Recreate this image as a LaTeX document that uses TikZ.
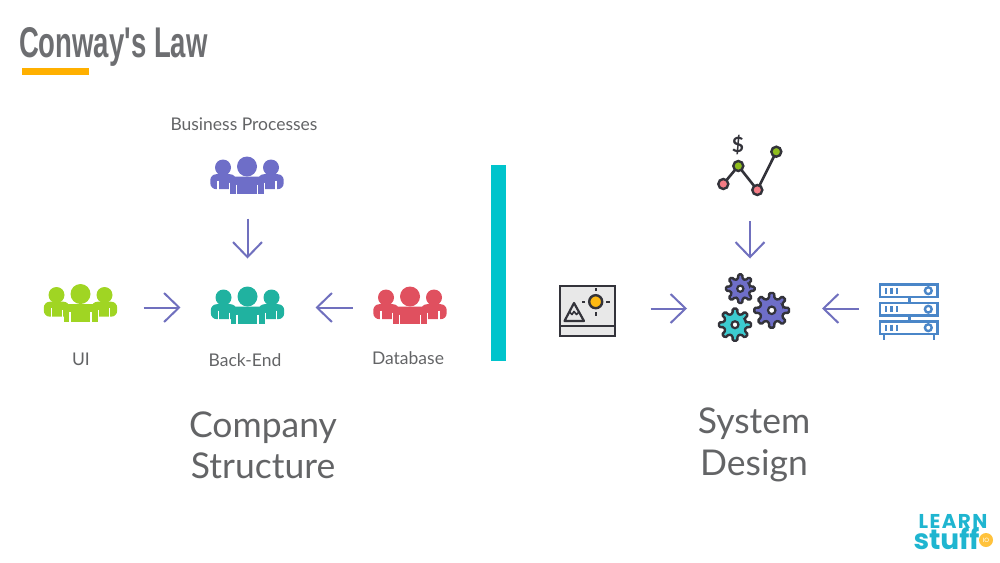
\documentclass[tikz,border=0pt]{standalone}
\usepackage{fontspec}
\setmainfont{Lato}
\newfontfamily\titlefont[FakeStretch=0.64]{Liberation Sans}
\newfontfamily\logofont{Poppins}
\usetikzlibrary{arrows.meta}
\definecolor{textgray}{HTML}{636466}
\definecolor{titlegray}{HTML}{6D6E71}
\definecolor{underbar}{HTML}{FFB000}
\definecolor{tealbar}{HTML}{00C4CC}
\definecolor{arrowblue}{HTML}{7070BE}
\definecolor{crowdpurple}{HTML}{6E6EC8}
\definecolor{crowdgreen}{HTML}{A0D523}
\definecolor{crowdteal}{HTML}{20B2A0}
\definecolor{crowdred}{HTML}{E0505F}
\definecolor{darkline}{HTML}{33333A}
\definecolor{dotred}{HTML}{F47C85}
\definecolor{dotgreen}{HTML}{8FBE1E}
\definecolor{sunyellow}{HTML}{FDB913}
\definecolor{cogpurple}{HTML}{6E6EC8}
\definecolor{cogteal}{HTML}{3CCBD0}
\definecolor{serverblue}{HTML}{4A86C8}
\definecolor{logoblue}{HTML}{1FB5D0}
\definecolor{logoorange}{HTML}{FFC23C}
\tikzset{
  iconbox/.style={inner sep=0pt,outer sep=0pt,minimum width=#1},
  flow/.style={draw=arrowblue,line width=2pt,-{Straight Barb[length=15pt,width=29pt]}},
  label/.style={text=textgray,font=\fontsize{17.5}{20}\selectfont},
  bigtext/.style={text=textgray,font=\fontsize{35.5}{41.5}\selectfont,align=center},
  crowd/.pic={
    \path[pic actions] (0,-9) circle(10);
    \path[pic actions] (-24,-8) circle(8);
    \path[pic actions] (24,-8) circle(8);
    \path[pic actions,rounded corners=6pt] (-36.7,13.7) -- (-36.7,-1.3) -- (-11,-1.3) -- (-11,13.7) -- cycle;
    \path[pic actions,rounded corners=6pt] (36.7,13.7) -- (36.7,-1.3) -- (11,-1.3) -- (11,13.7) -- cycle;
    \draw[white,line width=1.1pt] (-17.6,7) -- (-17.6,14);
    \draw[white,line width=1.1pt] (17.6,7) -- (17.6,14);
    \path[pic actions,rounded corners=5pt] (-17,8) -- (-17,1) -- (17,1) -- (17,8) -- cycle;
    \path[pic actions] (-17,5) rectangle (17,18.7);
    \draw[white,line width=1.1pt] (-10.5,9) -- (-10.5,19);
    \draw[white,line width=1.1pt] (10.5,9) -- (10.5,19);
    \draw[white,line width=1.1pt] (-29,5) -- (-29,14);
    \draw[white,line width=1.1pt] (29,5) -- (29,14);
  },
  cog/.pic={
    \path[pic actions,rounded corners=1.2pt] (-22.5:9.6) \foreach \a in {0,45,...,315} {
      -- (\a-13:9.8) -- (\a-8:14) -- (\a+8:14) -- (\a+13:9.8)
    } -- cycle;
    \filldraw[fill=white,draw=darkline,line width=2.2pt] (0,0) circle(3);
  }
}
\begin{document}
\begin{tikzpicture}[x=1pt,y=-1pt]
\useasboundingbox (0,0) rectangle (1000,562);

\node[text=titlegray,font=\titlefont\bfseries\fontsize{43}{47}\selectfont,anchor=west] (title) at (15.5,47) {Conway's Law};
\fill[underbar] (22,67.5) rectangle (89,75);
\fill[tealbar] (491,165) rectangle (506,361);

\node[label] (bplabel) at (244,124.5) {Business Processes};
\node[label] (uilabel) at (81,359) {UI};
\node[label] (belabel) at (245,360) {Back-End};
\node[label] (dblabel) at (408,358) {Database};
\node[bigtext] (company) at (263,445.5) {Company\\Structure};
\node[bigtext] (system) at (754,445) {System\\Design};

\node[iconbox=74,minimum height=38] (bp) at (247.5,175.5) {};
\node[iconbox=74,minimum height=38] (ui) at (80.5,307.5) {};
\node[iconbox=74,minimum height=38] (be) at (247.5,307.5) {};
\node[iconbox=74,minimum height=38] (db) at (410.5,307.5) {};
\node[iconbox=60,minimum height=46] (chart) at (750,172) {};
\node[iconbox=56,minimum height=50] (img) at (587.5,308.5) {};
\node[iconbox=80,minimum height=66] (gears) at (750,308.5) {};
\node[iconbox=60,minimum height=56] (server) at (908.6,308.5) {};

\pic[fill=crowdpurple] at (247,175.5) {crowd};
\pic[fill=crowdgreen] at (80.5,303) {crowd};
\pic[fill=crowdteal] at (247.5,305.5) {crowd};
\pic[fill=crowdred] at (410,305.5) {crowd};

\draw[flow,shorten <=24pt,shorten >=30pt] (bp) -- (be);
\draw[flow,shorten <=26pt,shorten >=30pt] (ui) -- (be);
\draw[flow,shorten <=21pt,shorten >=31pt] (db) -- (be);
\draw[flow,shorten <=26pt,shorten >=17pt] (chart) -- (gears);
\draw[flow,shorten <=35pt,shorten >=23pt] (img) -- (gears);
\draw[flow,shorten <=20pt,shorten >=32pt] (server) -- (gears);

\draw[darkline,line width=2.6pt,line join=round] (723.3,184) -- (738.3,166) -- (757.3,190) -- (776.3,151.7);
\filldraw[fill=dotred,draw=darkline,line width=2.4pt] (723.3,184) circle(5);
\filldraw[fill=dotgreen,draw=darkline,line width=2.4pt] (738.3,166) circle(5);
\filldraw[fill=dotred,draw=darkline,line width=2.4pt] (757.3,190) circle(5);
\filldraw[fill=dotgreen,draw=darkline,line width=2.4pt] (776.3,151.7) circle(5);
\node[text=darkline,font=\bfseries\fontsize{21}{24}\selectfont] (dollar) at (738,145) {\$};

\filldraw[fill=black!9,draw=darkline,line width=2.6pt] (560,286) rectangle (615,336);
\draw[darkline,line width=2.4pt] (560,326) -- (615,326);
\filldraw[fill=sunyellow,draw=darkline,line width=2.4pt] (595.7,301.7) circle(6.5);
\foreach \a in {0,90,180,270} {
  \draw[darkline,line width=2.4pt] ([shift={(\a:10.5)}]595.7,301.7) -- ([shift={(\a:14)}]595.7,301.7);
}
\draw[darkline,line width=2.2pt,line join=round] (574,303) -- (564.5,321) -- (584,321) -- cycle;
\draw[darkline,line width=1.6pt,line join=round] (569.5,312) -- (572,314.5) -- (574,311.5) -- (576.5,314.5) -- (579,312);

\pic[fill=cogpurple,draw=darkline,line width=2.4pt,scale=1.03] at (740.3,288.7) {cog};
\pic[fill=cogpurple,draw=darkline,line width=2.4pt,scale=1.25] at (771.7,310.3) {cog};
\pic[fill=cogteal,draw=darkline,line width=2.4pt,scale=1.155] at (735,324.7) {cog};

\foreach \y in {284.5,303,321.5} {
  \draw[serverblue,line width=2.6pt] (880,\y) rectangle (937.5,\y+12.5);
  \draw[serverblue,line width=2.4pt] (928.3,\y+6.2) circle(3.4);
  \foreach \x in {886,891.5,897} {
    \draw[serverblue,line width=2.2pt] (\x,\y+3.2) -- (\x,\y+9.2);
  }
}
\draw[serverblue,line width=2.6pt] (909.3,297) -- (909.3,303);
\draw[serverblue,line width=2.6pt] (909.3,315.5) -- (909.3,321.5);
\draw[serverblue,line width=2.6pt] (884,334) -- (884,339.5);
\draw[serverblue,line width=2.6pt] (934,334) -- (934,339.5);

\node[text=logoblue,font=\logofont\bfseries\fontsize{20}{20}\selectfont\addfontfeatures{LetterSpace=7},text height=14,text depth=0,inner sep=0pt,anchor=base] (learn) at (953,528) {LEARN};
\node[text=logoblue,font=\logofont\bfseries\fontsize{28}{28}\selectfont,text height=20,text depth=0,inner sep=0pt,anchor=base] (stuff) at (946.5,549) {stuff};
\fill[logoorange] (986,540) circle(7);
\node[text=white,font=\fontsize{6}{6}\selectfont] (io) at (986,540) {IO};
\end{tikzpicture}
\end{document}
